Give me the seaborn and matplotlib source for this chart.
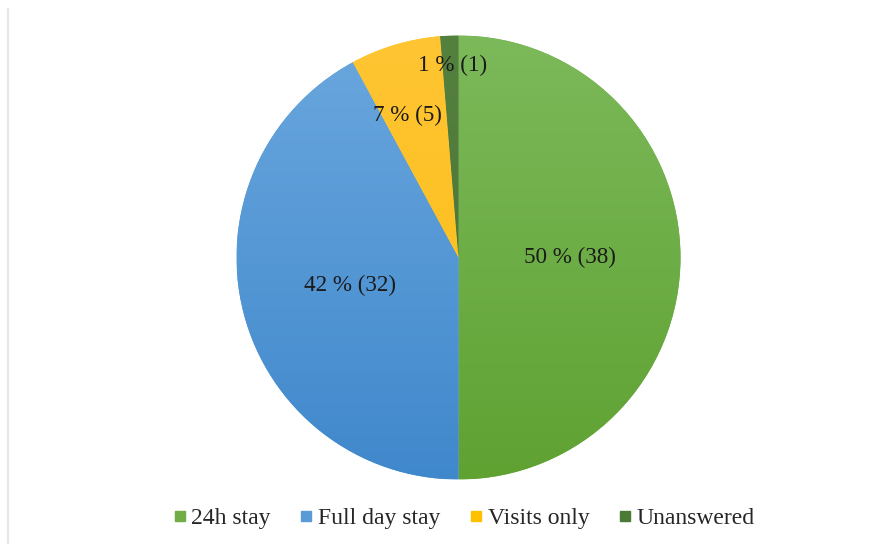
import matplotlib
matplotlib.use("Agg")
import matplotlib.pyplot as plt
import matplotlib.lines as mlines
import numpy as np
import seaborn as sns
from matplotlib.colors import LinearSegmentedColormap

sns.set_theme(style="white")
plt.rcParams['font.family'] = ['Liberation Serif', 'DejaVu Serif']

categories = ["24h stay", "Full day stay", "Visits only", "Unanswered"]
counts = [38, 32, 5, 1]
pct_labels = ["50 % (38)", "42 % (32)", "7 % (5)", "1 % (1)"]
top_colors = ["#7cb95a", "#6aa7de", "#ffc533", "#55813f"]
bottom_colors = ["#5fa232", "#4088cc", "#fbbd12", "#466f33"]
legend_colors = ["#70ad47", "#5b9bd5", "#ffc000", "#4a7a34"]

fig = plt.figure(figsize=(8.96, 5.44), dpi=100)
ax = fig.add_axes([236.5 / 896, (544 - 479.5) / 544, 444 / 896, 444 / 544])

wedges, _ = ax.pie(counts, colors=legend_colors, startangle=90, counterclock=False,
                   radius=1, wedgeprops=dict(linewidth=0))

# vertical gradient fill clipped to each wedge
grad = np.linspace(0, 1, 256).reshape(-1, 1)
for w, ct, cb in zip(wedges, top_colors, bottom_colors):
    cmap = LinearSegmentedColormap.from_list("g", [ct, cb])
    im = ax.imshow(grad, extent=[-1, 1, -1, 1], cmap=cmap, aspect='auto',
                   origin='upper', zorder=w.get_zorder() + 0.1)
    im.set_clip_path(w)

# label positions (in axes data units)
label_pos = [(0.5, 0.0), (-0.49, -0.125), (-0.228, 0.64), (-0.025, 0.866)]
for (x, y), txt in zip(label_pos, pct_labels):
    ax.text(x, y, txt, ha='center', va='center', fontsize=16.7, color='#1a1a1a', zorder=5)

ax.set_xlim(-1, 1)
ax.set_ylim(-1, 1)
ax.set_aspect('equal')
ax.axis('off')

handles = [mlines.Line2D([], [], marker='s', linestyle='None', markersize=6.5,
                         markerfacecolor=c, markeredgecolor=c) for c in legend_colors]
fig.legend(handles, categories, loc='center', bbox_to_anchor=(463 / 896, 1 - 518 / 544),
           ncol=4, frameon=False, fontsize=17, handletextpad=0.15, columnspacing=1.15,
           handlelength=0.7)

# faint left border line
fig.add_artist(mlines.Line2D([7.5 / 896, 7.5 / 896], [0, 1 - 9 / 544],
                             transform=fig.transFigure, color='#e6e6e6', linewidth=1.5))

fig.savefig("out.png", dpi=100, facecolor='white')
